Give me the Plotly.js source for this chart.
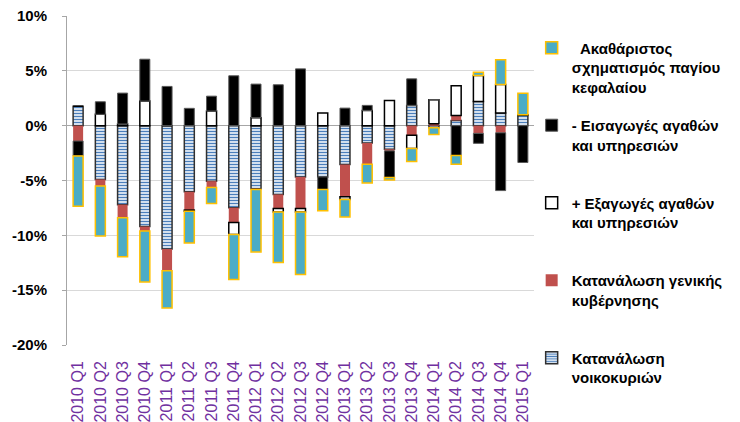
<!DOCTYPE html>
<html><head><meta charset="utf-8">
<script src="https://cdn.plot.ly/plotly-3.0.1.min.js"></script>
<style>html,body{margin:0;padding:0;background:#fff}#chart{width:740px;height:422px}</style>
</head><body><div id="chart"></div>
<script>
const quarters = ["2010 Q1","2010 Q2","2010 Q3","2010 Q4","2011 Q1","2011 Q2","2011 Q3","2011 Q4",
  "2012 Q1","2012 Q2","2012 Q3","2012 Q4","2013 Q1","2013 Q2","2013 Q3","2013 Q4",
  "2014 Q1","2014 Q2","2014 Q3","2014 Q4","2015 Q1"];
const household = [1.76,-4.9,-7.2,-9.2,-11.25,-6.03,-5.06,-7.48,-5.76,-6.27,-4.67,-4.67,-3.55,-1.58,-2.15,1.85,-0.2,0.48,2.21,1.15,0.94];
const government = [-1.4,-0.6,-1.2,-0.4,-1.97,-1.67,-0.58,-1.34,-0.05,-1.28,-2.88,0,-2.94,-1.94,-0.15,-0.88,0.18,0.45,-0.7,-0.65,0];
const exportsPlus = [0,1.03,0.15,2.24,0,-0.1,1.33,-1.1,0.73,-0.33,-0.33,1.15,-0.24,1.39,2.3,-1.21,2.18,2.71,2.36,2.6,0.05];
const importsMinus = [-1.36,1.15,2.82,3.82,3.58,1.58,1.36,4.55,3.06,3.73,5.18,-1.15,1.6,0.46,-2.42,2.42,0,-2.73,-0.91,-5.27,-3.36];
const gfcf = [-4.58,-4.55,-3.55,-4.65,-3.4,-2.9,-1.45,-4.1,-5.7,-4.6,-5.7,-1.94,-1.6,-1.7,-0.24,-1.18,-0.6,-0.79,0.3,2.27,1.97];
const legendNames = [
  "Κατανάλωση<br>νοικοκυριών",
  "Κατανάλωση γενικής<br>κυβέρνησης<br>\u00a0",
  "+ Εξαγωγές αγαθών<br>και υπηρεσιών<br>\u00a0",
  "- Εισαγωγές αγαθών<br>και υπηρεσιών<br>\u00a0",
  "\u00a0\u00a0Ακαθάριστος<br>σχηματισμός παγίου<br>κεφαλαίου"
];
const legendRanks = [5, 4, 3, 2, 1];
const yTicks = [-20,-15,-10,-5,0,5,10];
const yTickText = ["-20%","-15%","-10%","-5%","0%","5%","10%"];

const seriesValues = [household, government, exportsPlus, importsMinus, gfcf];
const markers = [
  {color:"#ffffff", line:{color:"#303030", width:1.5}, pattern:{shape:"-", fgcolor:"#4a7ebb", bgcolor:"#ffffff", size:3, solidity:0.5}},
  {color:"#c0504d", line:{color:"#c0504d", width:0}},
  {color:"#ffffff", line:{color:"#000000", width:1.5}},
  {color:"#000000", line:{color:"#595959", width:1}},
  {color:"#4bacc6", line:{color:"#ffc000", width:1.5}}
];
const traces = seriesValues.map((vals, i) => ({
  type:"bar", x: quarters, y: vals, name: legendNames[i], marker: markers[i],
  legendgroup: "g"+i, legendrank: legendRanks[i], hoverinfo:"x+y"
}));

const layout = {
  width:740, height:422,
  margin:{l:67, r:199, t:16, b:77},
  paper_bgcolor:"#ffffff", plot_bgcolor:"#ffffff",
  barmode:"relative", bargap:0.55,
  font:{family:"Liberation Sans, Arial, sans-serif", color:"#000"},
  xaxis:{type:"category", tickangle:-90, tickfont:{size:16, color:"#7030a0"},
    showline:false, showgrid:false, ticks:"", ticklabelstandoff:12, range:[-0.5,20.5]},
  xaxis2:{overlaying:"x", anchor:"free", position:2/3, range:[-0.5,20.5], showline:true,
    linecolor:"#a6a6a6", linewidth:1, ticks:"outside", ticklen:5, tickcolor:"#a6a6a6",
    tick0:0.5, dtick:1, showticklabels:false, showgrid:false, zeroline:false},
  yaxis:{range:[-20,10], tickvals:yTicks, ticktext:yTickText, showgrid:true, gridcolor:"#d9d9d9",
    zeroline:true, zerolinecolor:"#a6a6a6", zerolinewidth:1,
    showline:true, linecolor:"#a6a6a6", ticks:"outside", ticklen:4, tickcolor:"#a6a6a6",
    tickfont:{size:15, weight:"bold", color:"#000"}, ticklabelstandoff:12},
  showlegend:true,
  legend:{x:0.995, xanchor:"left", y:0.953, yanchor:"top", traceorder:"grouped",
    tracegroupgap:16, valign:"top", itemwidth:30, bgcolor:"rgba(0,0,0,0)", maxheight:420,
    font:{size:15, weight:"bold", color:"#000"}}
};
Plotly.newPlot("chart", traces, layout, {displayModeBar:false, staticPlot:true});
</script>
</body></html>
